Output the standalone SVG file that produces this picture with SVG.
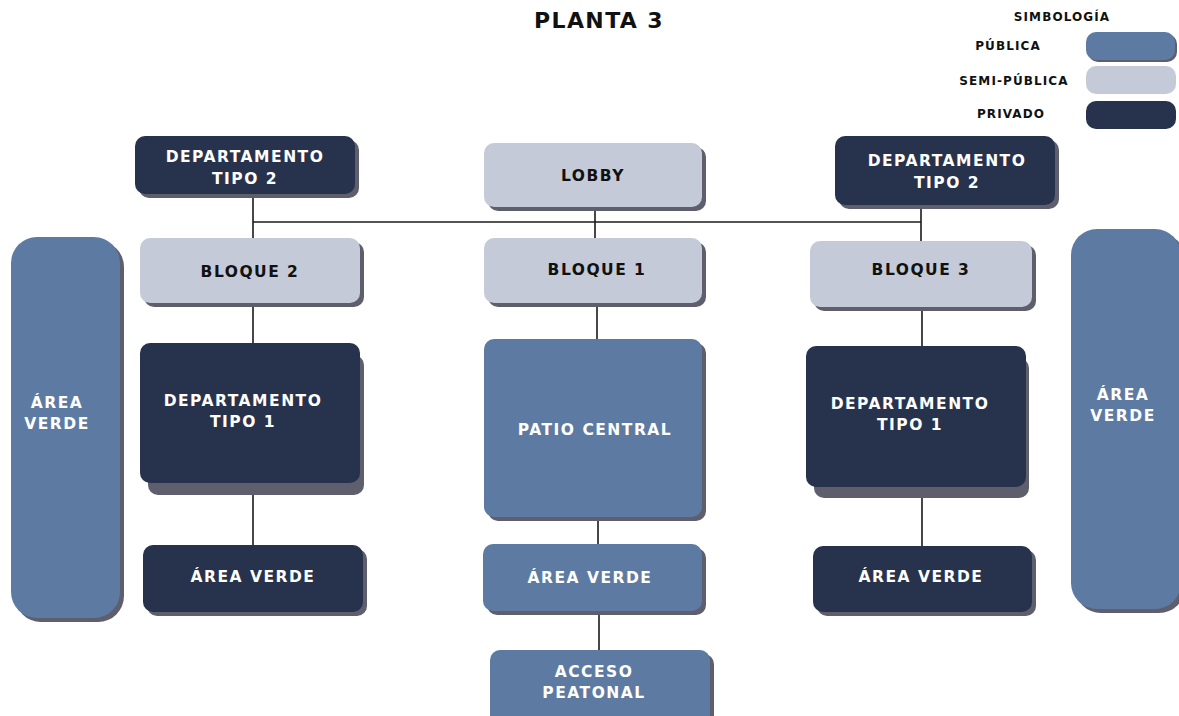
<svg xmlns="http://www.w3.org/2000/svg" width="1179" height="716" viewBox="0 0 1179 716">
<style>
.pub{fill:#5d7ba2}
.semi{fill:#c4cad7}
.priv{fill:#27324d}
.sh{fill:#5e5e6c}
.t{font-family:"DejaVu Sans","Liberation Sans",Arial,sans-serif;font-weight:bold;font-size:15.5px;letter-spacing:1.5px;text-anchor:middle}
.w{fill:#ffffff}
.k{fill:#111111}
.lg{font-family:"DejaVu Sans","Liberation Sans",Arial,sans-serif;font-weight:bold;font-size:12px;letter-spacing:1.1px;text-anchor:middle;fill:#111}
.ln{stroke:#1a1a1a;stroke-width:1.6;fill:none}
</style>
<rect width="1179" height="716" fill="#ffffff"/>
<text x="599" y="28" font-family="DejaVu Sans,Liberation Sans,Arial,sans-serif" font-weight="bold" font-size="22" letter-spacing="1.4" text-anchor="middle" fill="#111">PLANTA 3</text>
<g id="legend">
<text class="lg" x="1062" y="21">SIMBOLOGÍA</text>
<text class="lg" x="1008" y="50">PÚBLICA</text>
<text class="lg" x="1014" y="85">SEMI-PÚBLICA</text>
<text class="lg" x="1011" y="118">PRIVADO</text>
<rect class="sh" x="1088" y="34" width="89" height="28" rx="10"/>
<rect class="pub" x="1086" y="32" width="89" height="28" rx="10"/>
<rect class="semi" x="1086" y="66" width="90" height="28" rx="10"/>
<rect class="priv" x="1086" y="101" width="90" height="28" rx="10"/>
</g>
<g id="connectors">
<line class="ln" x1="253" y1="194" x2="253" y2="238"/>
<line class="ln" x1="253" y1="222" x2="921" y2="222"/>
<line class="ln" x1="595" y1="209" x2="595" y2="238"/>
<line class="ln" x1="921" y1="205" x2="921" y2="241"/>
<line class="ln" x1="253" y1="303" x2="253" y2="343"/>
<line class="ln" x1="597" y1="303" x2="597" y2="339"/>
<line class="ln" x1="922" y1="307" x2="922" y2="346"/>
<line class="ln" x1="253" y1="495" x2="253" y2="545"/>
<line class="ln" x1="598" y1="517" x2="598" y2="544"/>
<line class="ln" x1="922" y1="498" x2="922" y2="546"/>
<line class="ln" x1="599" y1="611" x2="599" y2="650"/>
</g>
<g id="av-left-tall">
<rect class="sh" x="15" y="241" width="109" height="381" rx="26"/>
<rect class="pub" x="11" y="237" width="109" height="381" rx="26"/>
<text class="t w" x="57" y="408">ÁREA</text>
<text class="t w" x="57" y="429">VERDE</text>
</g>
<g id="av-right-tall">
<rect class="sh" x="1075" y="233" width="110" height="380" rx="26"/>
<rect class="pub" x="1071" y="229" width="110" height="380" rx="26"/>
<text class="t w" x="1123" y="400">ÁREA</text>
<text class="t w" x="1123" y="421">VERDE</text>
</g>
<g id="dept2-left">
<rect class="sh" x="139" y="140" width="220" height="58" rx="10"/>
<rect class="priv" x="135" y="136" width="220" height="58" rx="10"/>
<text class="t w" x="245" y="162">DEPARTAMENTO</text>
<text class="t w" x="245" y="184">TIPO 2</text>
</g>
<g id="lobby">
<rect class="sh" x="488" y="147" width="218" height="64" rx="10"/>
<rect class="semi" x="484" y="143" width="218" height="64" rx="10"/>
<text class="t k" x="593" y="181">LOBBY</text>
</g>
<g id="dept2-right">
<rect class="sh" x="839" y="140" width="220" height="69" rx="10"/>
<rect class="priv" x="835" y="136" width="220" height="69" rx="10"/>
<text class="t w" x="947" y="166">DEPARTAMENTO</text>
<text class="t w" x="947" y="188">TIPO 2</text>
</g>
<g id="bloque2">
<rect class="sh" x="144" y="242" width="220" height="65" rx="10"/>
<rect class="semi" x="140" y="238" width="220" height="65" rx="10"/>
<text class="t k" x="250" y="277">BLOQUE 2</text>
</g>
<g id="bloque1">
<rect class="sh" x="488" y="242" width="218" height="65" rx="10"/>
<rect class="semi" x="484" y="238" width="218" height="65" rx="10"/>
<text class="t k" x="597" y="275">BLOQUE 1</text>
</g>
<g id="bloque3">
<rect class="sh" x="814" y="245" width="222" height="66" rx="10"/>
<rect class="semi" x="810" y="241" width="222" height="66" rx="10"/>
<text class="t k" x="921" y="275">BLOQUE 3</text>
</g>
<g id="dept1-left">
<rect class="sh" x="148" y="355" width="216" height="140" rx="10"/>
<rect class="priv" x="140" y="343" width="220" height="140" rx="10"/>
<text class="t w" x="243" y="406">DEPARTAMENTO</text>
<text class="t w" x="243" y="427">TIPO 1</text>
</g>
<g id="patio">
<rect class="sh" x="488" y="343" width="218" height="178" rx="10"/>
<rect class="pub" x="484" y="339" width="218" height="178" rx="10"/>
<text class="t w" x="595" y="435">PATIO CENTRAL</text>
</g>
<g id="dept1-right">
<rect class="sh" x="814" y="358" width="215" height="140" rx="10"/>
<rect class="priv" x="806" y="346" width="220" height="141" rx="10"/>
<text class="t w" x="910" y="409">DEPARTAMENTO</text>
<text class="t w" x="910" y="430">TIPO 1</text>
</g>
<g id="av-left">
<rect class="sh" x="147" y="549" width="220" height="67" rx="10"/>
<rect class="priv" x="143" y="545" width="220" height="67" rx="10"/>
<text class="t w" x="253" y="582">ÁREA VERDE</text>
</g>
<g id="av-center">
<rect class="sh" x="487" y="548" width="219" height="67" rx="10"/>
<rect class="pub" x="483" y="544" width="219" height="67" rx="10"/>
<text class="t w" x="590" y="583">ÁREA VERDE</text>
</g>
<g id="av-right">
<rect class="sh" x="817" y="550" width="219" height="66" rx="10"/>
<rect class="priv" x="813" y="546" width="219" height="66" rx="10"/>
<text class="t w" x="921" y="582">ÁREA VERDE</text>
</g>
<g id="acceso">
<rect class="sh" x="494" y="654" width="220" height="80" rx="10"/>
<rect class="pub" x="490" y="650" width="220" height="80" rx="10"/>
<text class="t w" x="594" y="677">ACCESO</text>
<text class="t w" x="594" y="698">PEATONAL</text>
</g>
</svg>
